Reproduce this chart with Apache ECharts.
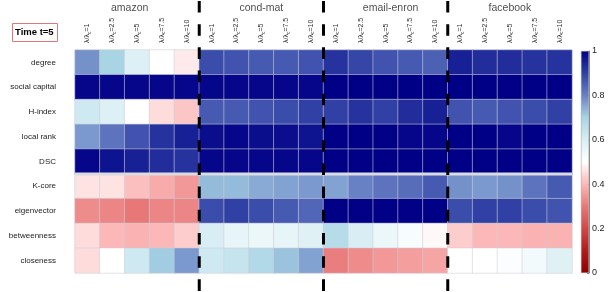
<!DOCTYPE html>
<html>
<head>
<meta charset="utf-8">
<script src="https://cdn.jsdelivr.net/npm/echarts@6/dist/echarts.min.js"></script>
<style>html,body{margin:0;padding:0;background:#fff;}#c{width:614px;height:292px;}</style>
</head>
<body>
<div id="c"></div>
<script>
const rows = ['degree','social capital','H-index','local rank','DSC','K-core','eigenvector','betweenness','closeness'];
const groups = ['amazon','cond-mat','email-enron','facebook'];
const groupLabelPos = [2.2, 7.5, 12.7, 17.5];
const ratios = ['1','2.5','5','7.5','10'];

const amazon = [
  [0.78,0.70,0.59,0.50,0.47],
  [0.99,0.99,0.99,0.99,0.99],
  [0.62,0.59,0.50,0.45,0.42],
  [0.77,0.82,0.87,0.92,0.95],
  [0.99,0.97,0.95,0.93,0.92],
  [0.46,0.46,0.41,0.38,0.35],
  [0.33,0.32,0.30,0.32,0.32],
  [0.45,0.40,0.39,0.40,0.43],
  [0.45,0.50,0.62,0.71,0.77]
];
const condMat = [
  [0.88,0.87,0.86,0.86,0.87],
  [0.99,0.99,0.99,0.99,0.99],
  [0.86,0.86,0.87,0.88,0.90],
  [0.98,0.99,0.98,0.98,0.97],
  [0.99,0.99,0.99,0.99,0.99],
  [0.73,0.73,0.75,0.76,0.77],
  [0.88,0.90,0.88,0.86,0.84],
  [0.60,0.56,0.55,0.56,0.58],
  [0.62,0.64,0.68,0.72,0.76]
];
const emailEnron = [
  [0.92,0.89,0.87,0.86,0.85],
  [1.00,1.00,1.00,1.00,1.00],
  [0.90,0.92,0.90,0.93,0.95],
  [1.00,1.00,1.00,0.99,0.99],
  [1.00,1.00,1.00,1.00,1.00],
  [0.76,0.80,0.82,0.83,0.86],
  [1.00,1.00,1.00,1.00,1.00],
  [0.67,0.60,0.55,0.52,0.49],
  [0.31,0.33,0.35,0.36,0.37]
];
const facebook = [
  [0.95,0.93,0.93,0.92,0.92],
  [1.00,1.00,1.00,1.00,1.00],
  [0.87,0.86,0.87,0.88,0.90],
  [1.00,1.00,0.99,1.00,1.00],
  [1.00,1.00,1.00,1.00,1.00],
  [0.78,0.77,0.78,0.82,0.86],
  [0.88,0.90,0.90,0.88,0.87],
  [0.43,0.40,0.40,0.39,0.39],
  [0.50,0.50,0.51,0.53,0.58]
];
const colormap = ['#8b0000','#b01c1c','#d04848','#e87878','#fcb8b8','#ffffff','#d8eef4','#a8d4e4','#6880c4','#3040a4','#000086'];

const groupValues = [amazon, condMat, emailEnron, facebook];
const nCols = ratios.length;
const xCats = [];
groups.forEach(g => ratios.forEach(r => xCats.push(g + '|' + r)));
const heatData = [];
groupValues.forEach((g, gi) => g.forEach((row, ri) => row.forEach((v, ci) => heatData.push([gi * nCols + ci, ri, v]))));
const boundaries = groups.slice(1).map((g, i) => (i + 1) * nCols);

const chart = echarts.init(document.getElementById('c'), null, {renderer: 'canvas'});
const FONT = 'Liberation Sans';

const dashSeries = boundaries.map(b => ({
  type: 'line', xAxisIndex: 1, yAxisIndex: 1, data: [[b, -1.98], [b, 9.8]],
  symbol: 'none', clip: false, silent: true, z: 10,
  lineStyle: {color: '#000', width: 3, type: [11.6, 11.6]}
}));

chart.setOption({
  animation: false,
  textStyle: {fontFamily: FONT},
  grid: [
    {left: 75, top: 50, width: 497, height: 223},
    {left: 581, top: 51, width: 8, height: 222}
  ],
  xAxis: [
    {type: 'category', gridIndex: 0, position: 'top', data: xCats,
     axisLine: {show: false}, axisTick: {show: false}, splitLine: {show: false},
     axisLabel: {interval: 0, rotate: 90, margin: 7, color: '#333',
       formatter: v => '{a|λ/λ}{b|c}{a|=' + v.split('|')[1] + '}',
       rich: {a: {fontSize: 7, color: '#333', fontFamily: FONT},
              b: {fontSize: 5, color: '#333', fontFamily: FONT, padding: [4, 0, 0, 0]}}}},
    {type: 'value', gridIndex: 0, min: 0, max: 20, show: false},
    {type: 'category', gridIndex: 1, data: ['cb'], show: false}
  ],
  yAxis: [
    {type: 'category', gridIndex: 0, data: rows, inverse: true,
     axisLine: {show: false}, axisTick: {show: false}, splitLine: {show: false},
     axisLabel: {fontSize: 8, color: '#222', margin: 19}},
    {type: 'value', gridIndex: 0, min: 0, max: 9, inverse: true, show: false},
    {type: 'value', gridIndex: 1, min: 0, max: 1, interval: 0.2, position: 'right',
     axisLine: {show: true, lineStyle: {color: '#888', width: 1}},
     axisTick: {show: true, inside: true, length: 2, lineStyle: {color: '#888'}},
     splitLine: {show: false},
     axisLabel: {fontSize: 9, color: '#222', margin: 3}}
  ],
  visualMap: {show: false, type: 'continuous', min: 0, max: 1, seriesIndex: 0, inRange: {color: colormap}},
  graphic: [
    {type: 'rect', left: 12, top: 23, shape: {width: 45, height: 18},
     style: {fill: '#fff', stroke: '#e07878', lineWidth: 1}},
    {type: 'text', left: 15, top: 27, style: {text: 'Time t=5', font: 'bold 9.5px ' + FONT, fill: '#000'}}
  ],
  series: [
    {type: 'heatmap', xAxisIndex: 0, yAxisIndex: 0, data: heatData, silent: true,
     itemStyle: {borderColor: 'rgba(205,205,215,0.55)', borderWidth: 1},
     emphasis: {disabled: true}},
    {type: 'line', xAxisIndex: 1, yAxisIndex: 1, data: [[0, 5], [20, 5]], symbol: 'none',
     silent: true, z: 5, lineStyle: {color: '#dcdce0', width: 3}},
    {type: 'scatter', xAxisIndex: 1, yAxisIndex: 1, symbolSize: 0, clip: false, silent: true,
     data: groups.map((g, i) => ({name: g, value: [groupLabelPos[i], -1.7]})),
     label: {show: true, position: 'inside', formatter: '{b}', fontSize: 10.5, color: '#222'}},
    {type: 'bar', xAxisIndex: 2, yAxisIndex: 2, data: [1], barWidth: '100%', silent: true,
     itemStyle: {borderColor: '#999', borderWidth: 0.5,
       color: new echarts.graphic.LinearGradient(0, 1, 0, 0,
         colormap.map((c, i) => ({offset: i / (colormap.length - 1), color: c})))}},
    ...dashSeries
  ]
});
</script>
</body>
</html>
